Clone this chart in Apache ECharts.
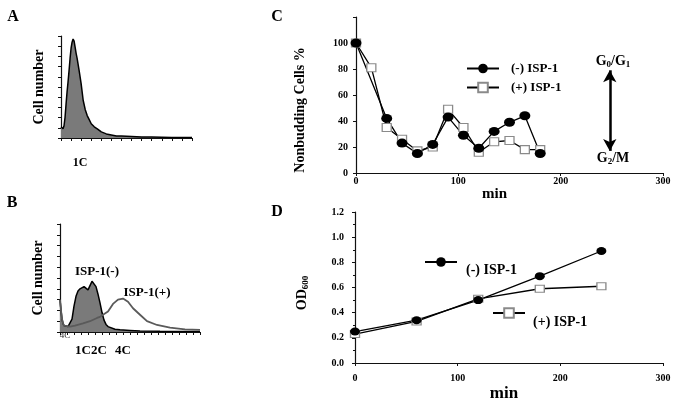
<!DOCTYPE html>
<html lang="en">
<head>
<meta charset="UTF-8">
<title>ISP-1 figure</title>
<script src="https://cdn.jsdelivr.net/npm/echarts@6/dist/echarts.min.js"></script>
<style>
  html, body { margin: 0; padding: 0; background: #fff; }
</style>
</head>
<body>
<div id="main" style="width:675px; height:403px;"></div>
<script>
// A: DNA content histogram (channel, cell count)
var histAx = [0, 1, 2, 3, 4, 5, 6, 7, 8, 9, 10, 11, 12, 13, 14, 15, 16, 18, 20, 22, 24, 26, 28, 30, 33, 36, 40, 45, 50, 55, 60, 70, 80, 90, 100, 110, 120, 130];
var histAy = [11, 10, 9, 12, 20, 33, 45, 55, 66, 78, 88, 94, 97, 95, 89, 83, 78, 66, 53, 37, 28, 22, 18, 14, 11, 9, 6, 4, 3, 2, 2, 1.5, 1, 1, 0.8, 0.6, 0.5, 0.4];

// B: ISP-1(-) filled, ISP-1(+) outline
var histBnegX = [0, 1, 2, 3, 4, 6, 8, 10, 12, 14, 16, 18, 20, 22, 24, 26, 28, 30, 32, 34, 36, 38, 40, 42, 44, 46, 48, 50, 55, 60, 70, 80, 100, 120, 140];
var histBnegY = [30, 20, 12, 8, 6, 5, 5, 5, 12, 24, 33, 38, 40, 41, 42, 41, 39, 43, 47, 46, 42, 35, 27, 18, 11, 7, 5, 4, 2.5, 2, 1.5, 1, 0.7, 0.5, 0.4];
var histBposX = [0, 1, 2, 3, 4, 6, 10, 15, 23, 30, 37, 40, 43, 48, 53, 58, 63, 68, 73, 80, 87, 97, 110, 125, 140];
var histBposY = [30, 20, 12, 8, 6, 5, 5, 6, 8, 10, 13, 14, 16, 19, 26, 30, 31, 28, 22, 16, 10, 6.5, 4, 2.5, 2];

// C: nonbudding cells (%)
var cTimeNeg = [0, 30, 45, 60, 75, 90, 105, 120, 135, 150, 165, 180];
var cNeg = [100, 42, 23, 15, 22, 43, 29, 19, 32, 39, 44, 15];
var cTimePos = [0, 15, 30, 45, 60, 75, 90, 105, 120, 135, 150, 165, 180];
var cPos = [100, 81, 35, 26, 17, 20, 49, 35, 16, 24, 25, 18, 18];

// D: OD600
var dTime = [0, 60, 120, 180, 240];
var dNeg = [0.25, 0.34, 0.50, 0.69, 0.89];
var dPos = [0.23, 0.33, 0.51, 0.59, 0.61];

function zip(xs, ys) {
  return xs.map(function (x, i) { return [x, ys[i]]; });
}

var F = "'Liberation Serif', 'DejaVu Serif', serif";
var AXIS = { show: true, onZero: false, lineStyle: { color: '#111', width: 1.2 } };

function histX(idx, max, step) {
  return {
    gridIndex: idx, type: 'value', min: 0, max: max, interval: step,
    axisLine: AXIS, axisTick: { show: true, length: 3, lineStyle: { color: '#111' } },
    axisLabel: { show: false }, splitLine: { show: false }
  };
}
function histY(idx) {
  return {
    gridIndex: idx, type: 'value', min: 0, max: 100, interval: 10,
    axisLine: AXIS, axisTick: { show: true, length: 3, lineStyle: { color: '#111' } },
    axisLabel: { show: false }, splitLine: { show: false },
    name: 'Cell number', nameLocation: 'middle', nameGap: 15,
    nameTextStyle: { fontFamily: F, fontWeight: 'bold', fontSize: 14, color: '#000' }
  };
}

function txt(text, x, y, size, extra) {
  var el = {
    type: 'text', x: x, y: y,
    style: {
      text: text, fill: '#000', textAlign: 'center', textVerticalAlign: 'middle',
      font: 'bold ' + size + 'px ' + F
    }
  };
  if (extra) {
    for (var k in extra) el[k] = extra[k];
  }
  return el;
}

function subText(text, x, y, rotation) {
  return {
    type: 'text', x: x, y: y, rotation: rotation || 0,
    style: {
      text: text, fill: '#000', textAlign: 'center', textVerticalAlign: 'middle',
      font: 'bold 14px ' + F, lineHeight: 16,
      rich: { s: { fontFamily: F, fontWeight: 'bold', fontSize: 9, verticalAlign: 'bottom', lineHeight: 16 } }
    }
  };
}

var myChart = echarts.init(document.getElementById('main'));

myChart.setOption({
  animation: false,
  backgroundColor: '#fff',
  grid: [
    { left: 61, top: 36, width: 131, height: 102 },
    { left: 60, top: 224, width: 140, height: 108 },
    { left: 356, top: 17, width: 307, height: 156 },
    { left: 355, top: 212, width: 308, height: 153 }
  ],
  xAxis: [
    histX(0, 130, 10),
    histX(1, 140, 7),
    {
      gridIndex: 2, type: 'value', min: 0, max: 300, interval: 100,
      axisLine: AXIS, axisTick: { show: true, length: 3 }, splitLine: { show: false },
      axisLabel: { margin: 3, fontFamily: F, fontWeight: 'bold', fontSize: 10, color: '#000' },
      name: 'min', nameLocation: 'middle', nameGap: 13,
      nameTextStyle: { fontFamily: F, fontWeight: 'bold', fontSize: 15, color: '#000', padding: [0, 30, 0, 0] }
    },
    {
      gridIndex: 3, type: 'value', min: 0, max: 300, interval: 100,
      axisLine: AXIS, axisTick: { show: true, length: 3 }, splitLine: { show: false },
      axisLabel: { margin: 10, fontFamily: F, fontWeight: 'bold', fontSize: 10, color: '#000' },
      name: 'min', nameLocation: 'middle', nameGap: 22,
      nameTextStyle: { fontFamily: F, fontWeight: 'bold', fontSize: 17, color: '#000', padding: [0, 10, 0, 0] }
    }
  ],
  yAxis: [
    histY(0),
    histY(1),
    {
      gridIndex: 2, type: 'value', min: 0, max: 120, interval: 20,
      axisLine: AXIS, axisTick: { show: true, length: 3 }, splitLine: { show: false },
      axisLabel: {
        margin: 8, fontFamily: F, fontWeight: 'bold', fontSize: 10, color: '#000',
        formatter: function (v) { return v > 100 ? '' : v; }
      }
    },
    {
      gridIndex: 3, type: 'value', min: 0, max: 1.2, interval: 0.2,
      axisLine: AXIS, axisTick: { show: true, length: 3 }, splitLine: { show: false },
      minorTick: { show: true, splitNumber: 2, length: 2 },
      axisLabel: {
        margin: 11, fontFamily: F, fontWeight: 'bold', fontSize: 10, color: '#000',
        formatter: function (v) { return v.toFixed(1); }
      }
    }
  ],
  legend: [
    {
      data: ['(-) ISP-1', '(+) ISP-1'], orient: 'vertical', left: 466, top: 62, padding: 0,
      itemWidth: 32, itemHeight: 12, itemGap: 6, selectedMode: false,
      textStyle: { fontFamily: F, fontWeight: 'bold', fontSize: 13, color: '#000', padding: [0, 0, 0, 7] }
    },
    {
      data: ['(-) ISP-1'], left: 424, top: 256, padding: 0,
      itemWidth: 32, itemHeight: 12, selectedMode: false,
      formatter: function () { return ''; }
    },
    {
      data: ['(+) ISP-1'], left: 492, top: 307, padding: 0,
      itemWidth: 32, itemHeight: 12, selectedMode: false,
      formatter: function () { return ''; }
    }
  ],
  series: [
    {
      name: 'A', type: 'line', xAxisIndex: 0, yAxisIndex: 0, showSymbol: false,
      data: zip(histAx, histAy),
      lineStyle: { color: '#000', width: 1.5 },
      areaStyle: { color: '#7a7a7a', opacity: 1 }
    },
    {
      name: 'ISP-1(-)', type: 'line', xAxisIndex: 1, yAxisIndex: 1, showSymbol: false,
      data: zip(histBnegX, histBnegY),
      lineStyle: { color: '#000', width: 1.5 },
      areaStyle: { color: '#7a7a7a', opacity: 1 }
    },
    {
      name: 'ISP-1(+)', type: 'line', xAxisIndex: 1, yAxisIndex: 1, showSymbol: false,
      data: zip(histBposX, histBposY),
      lineStyle: { color: '#5a5a5a', width: 1.8 }
    },
    {
      name: '(+) ISP-1', type: 'line', xAxisIndex: 2, yAxisIndex: 2,
      data: zip(cTimePos, cPos),
      symbol: 'rect', symbolSize: [9, 8],
      itemStyle: { color: '#fff', borderColor: '#8a8a8a', borderWidth: 1.2 },
      lineStyle: { color: '#000', width: 1.3 }
    },
    {
      name: '(-) ISP-1', type: 'line', xAxisIndex: 2, yAxisIndex: 2,
      data: zip(cTimeNeg, cNeg),
      symbol: 'circle', symbolSize: [11, 9],
      itemStyle: { color: '#000' },
      lineStyle: { color: '#000', width: 1.3 },
      markLine: {
        silent: true, symbol: ['arrow', 'arrow'], symbolSize: [10, 12],
        label: { show: false },
        lineStyle: { color: '#000', width: 2.5, type: 'solid' },
        data: [[{ coord: [248, 79] }, { coord: [248, 17] }]]
      }
    },
    {
      name: '(+) ISP-1', type: 'line', xAxisIndex: 3, yAxisIndex: 3,
      data: zip(dTime, dPos),
      symbol: 'rect', symbolSize: [9, 7],
      itemStyle: { color: '#fff', borderColor: '#8a8a8a', borderWidth: 1.2 },
      lineStyle: { color: '#000', width: 1.3 }
    },
    {
      name: '(-) ISP-1', type: 'line', xAxisIndex: 3, yAxisIndex: 3,
      data: zip(dTime, dNeg),
      symbol: 'circle', symbolSize: [10, 8],
      itemStyle: { color: '#000' },
      lineStyle: { color: '#000', width: 1.3 }
    }
  ],
  graphic: [
    txt('A', 13, 17, 16),
    txt('B', 12, 203, 16),
    txt('C', 277, 17, 16),
    txt('D', 277, 212, 16),
    txt('1C', 80, 163, 12),
    txt('1C2C', 91, 351, 13),
    txt('4C', 123, 351, 13),
    {
      type: 'text', x: 65, y: 336,
      style: { text: '4C', fill: '#333', textAlign: 'center', textVerticalAlign: 'middle', font: '9px ' + F }
    },
    txt('ISP-1(-)', 97, 272, 13),
    txt('ISP-1(+)', 147, 293, 13),
    txt('Nonbudding Cells %', 300, 110, 14, { rotation: Math.PI / 2 }),
    subText('OD{s|600}', 302, 293, Math.PI / 2),
    subText('G{s|0}/G{s|1}', 613, 61),
    subText('G{s|2}/M', 613, 158),
    {
      type: 'text', x: 466, y: 270,
      style: { text: '(-) ISP-1', fill: '#000', textAlign: 'left', textVerticalAlign: 'middle', font: 'bold 14px ' + F }
    },
    {
      type: 'text', x: 533, y: 322,
      style: { text: '(+) ISP-1', fill: '#000', textAlign: 'left', textVerticalAlign: 'middle', font: 'bold 14px ' + F }
    }
  ]
});
</script>
</body>
</html>
